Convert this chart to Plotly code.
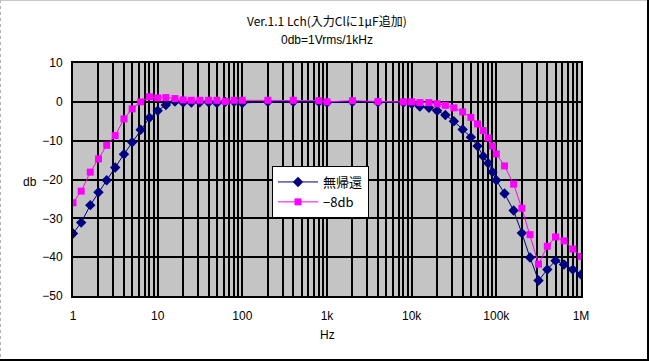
import plotly.graph_objects as go

freq = [1, 1.25, 1.6, 2, 2.5, 3.15, 4, 5, 6.3, 8, 10, 12.5, 16, 20, 25, 31.5, 40, 50, 63, 80, 100,
        200, 400, 800, 1000, 2000, 4000, 8000, 10000, 12500, 16000, 20000, 25000, 31500, 40000,
        50000, 60000, 70000, 80000, 90000, 100000, 125000, 160000, 200000, 250000, 315000,
        400000, 500000, 630000, 800000, 1000000]

no_fb = [-33.9, -31.1, -26.6, -23.3, -20.2, -16.9, -13.5, -10.4, -7.2, -4.1, -2.3, -0.8, 0.1, -0.2,
         -0.2, -0.1, -0.1, -0.3, 0.0, 0.0, -0.3, 0.0, 0.0, 0.0, -0.2, 0.0, -0.1, -0.2, -0.5, -1.2,
         -1.55, -2.3, -3.4, -5.0, -7.1, -9.1, -11.4, -14.0, -15.8, -18.1, -20.2, -23.6, -28.0,
         -33.8, -40.1, -46.0, -43.2, -40.9, -41.9, -43.2, -44.5]

fb8 = [-26.0, -23.0, -18.1, -14.7, -11.2, -8.7, -4.4, -1.8, 0.0, 1.3, 1.0, 1.1, 0.85, 0.5, 0.4,
       0.4, 0.4, 0.4, 0.1, 0.4, 0.4, 0.4, 0.4, 0.3, 0.0, 0.3, 0.1, 0.0, 0.0, -0.2, -0.2, -0.5,
       -0.9, -1.55, -2.6, -4.0, -5.7, -7.4, -9.3, -11.4, -13.4, -16.5, -21.2, -27.4, -34.2, -41.8,
       -37.2, -34.8, -35.8, -37.9, -39.8]

series_names = ["無帰還", "−8db"]
x_tickvals = [1, 10, 100, 1000, 10000, 100000, 1000000]
x_ticktext = ["1", "10", "100", "1k", "10k", "100k", "1M"]
title_lines = ["Ver.1.1 Lch(入力Clに1μF追加)", "0db=1Vrms/1kHz"]

minor_vals = [m * 10 ** d for d in range(6) for m in range(2, 10)]

FONT = "Liberation Sans, Arial, Noto Sans CJK JP"
W, H = 649, 361
L, R, T, B = 73, 68, 63, 65
pw, ph = W - L - R, H - T - B

fig = go.Figure()
fig.add_trace(go.Scatter(x=freq, y=no_fb, name=series_names[0], mode="lines+markers",
                         line=dict(color="#000080", width=1),
                         marker=dict(symbol="diamond", size=8, color="#000080")))
fig.add_trace(go.Scatter(x=freq, y=fb8, name=series_names[1], mode="lines+markers",
                         line=dict(color="#FF00FF", width=1),
                         marker=dict(symbol="square", size=7, color="#FF00FF")))

def px_x(p):
    return (p - L) / pw

def px_y(p):
    return (H - B - p) / ph

shapes = [
    dict(type="line", xref="paper", yref="paper", x0=px_x(0.5), x1=px_x(0.5), y0=px_y(0), y1=px_y(H),
         line=dict(color="#b0b0b0", width=1, dash="dot")),
    dict(type="line", xref="paper", yref="paper", x0=px_x(0), x1=px_x(W), y0=px_y(0.5), y1=px_y(0.5),
         line=dict(color="#c8c8c8", width=1)),
    dict(type="line", xref="paper", yref="paper", x0=px_x(W - 1), x1=px_x(W - 1), y0=px_y(0), y1=px_y(H),
         line=dict(color="black", width=2)),
    dict(type="line", xref="paper", yref="paper", x0=px_x(0), x1=px_x(W), y0=px_y(H - 1), y1=px_y(H - 1),
         line=dict(color="black", width=2)),
]

def label(text, x, y, family=FONT):
    return dict(text=text, xref="paper", yref="paper", x=px_x(x), y=px_y(y),
                xanchor="center", yanchor="middle", showarrow=False,
                font=dict(family=family, size=12))

fig.update_layout(
    width=W, height=H,
    margin=dict(l=L, r=R, t=T, b=B),
    paper_bgcolor="white",
    plot_bgcolor="#c4c4c4",
    font=dict(family=FONT, size=12, color="black"),
    showlegend=True,
    legend=dict(x=px_x(272), y=px_y(166), xanchor="left", yanchor="top",
                bgcolor="white", bordercolor="black", borderwidth=1, itemwidth=40,
                font=dict(family="Noto Sans CJK JP, Liberation Sans", size=13), tracegroupgap=4),
    shapes=shapes,
    annotations=[
        label(title_lines[0], 327, 20, "Noto Sans CJK JP, Liberation Sans"),
        label(title_lines[1], 327, 40),
        label("db", 30, 182),
        label("Hz", 327, 335),
    ],
)

fig.update_xaxes(type="log", range=[0, 6], tickvals=x_tickvals, ticktext=x_ticktext,
                 showgrid=True, gridcolor="black", gridwidth=2,
                 minor=dict(tickvals=minor_vals, showgrid=True, gridcolor="black", gridwidth=2, ticks=""),
                 showline=True, linecolor="black", linewidth=2, mirror=True,
                 ticks="", ticklen=0, ticklabelstandoff=8, tickfont=dict(size=12), zeroline=False)
fig.update_yaxes(range=[-50, 10], dtick=10, showgrid=True, gridcolor="black", gridwidth=2,
                 showline=True, linecolor="black", linewidth=2, mirror=True,
                 ticks="", ticklabelstandoff=6, tickfont=dict(size=12), zeroline=False)

fig.write_html("out.html", config={"displayModeBar": False},
               post_script="document.body.style.margin='0';document.body.style.overflow='hidden';")
